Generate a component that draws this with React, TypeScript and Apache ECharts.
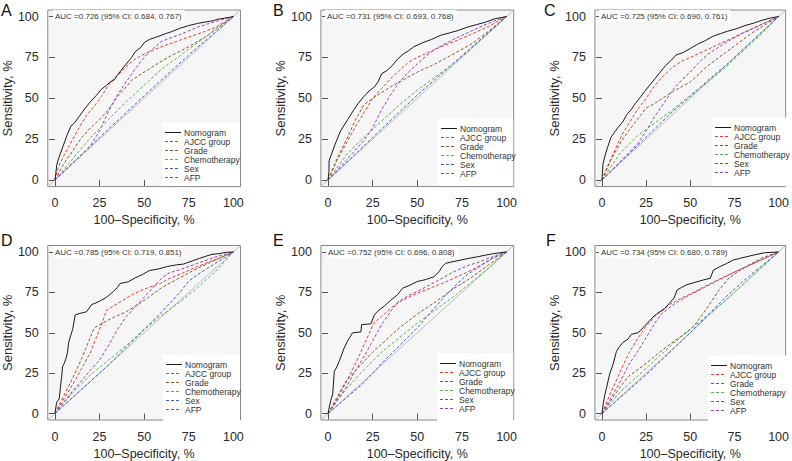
import React, { useEffect, useRef } from "react";
import * as echarts from "echarts";

const CURVE_NAMES = ["Nomogram", "AJCC group", "Grade", "Chemotherapy", "Sex", "AFP"];
const PANEL_LABELS = ["A", "B", "C", "D", "E", "F"];
const AUC_TEXTS = [
  "AUC =0.726 (95% CI: 0.684, 0.767)",
  "AUC =0.731 (95% CI: 0.693, 0.768)",
  "AUC =0.725 (95% CI: 0.690, 0.761)",
  "AUC =0.785 (95% CI: 0.719, 0.851)",
  "AUC =0.752 (95% CI: 0.696, 0.808)",
  "AUC =0.734 (95% CI: 0.680, 0.789)",
];
const TICKS = [0, 25, 50, 75, 100];
const X_TITLE = "100\u2013Specificity, %";
const Y_TITLE = "Sensitivity, %";
const DIAGONAL = [[-4, -4], [104, 104]];

// Panel A
const nomogramA = [[0,0],[0.5,4],[1,9],[2,13],[3,16],[5,22],[7,28],[9,33],[11,35],[13,38],[15,41],[17,44],[20,48],[23,51.5],[26,55.5],[29,58],[31,60],[33,61],[35,64],[37,67],[40,71],[43,75],[45,78.5],[48,81],[50,84],[53,86],[57,87.5],[62,89.5],[66,91],[70,92.8],[75,94.5],[80,95.8],[85,96.8],[89,97.5],[91,98.3],[95,99],[98,99.5],[100,100]];
const ajccA = [[0,0],[2,8],[5,15],[8,21],[11,27],[14,33],[18,40],[22,45],[26,51],[30,58],[33,62],[37,66],[40,69.5],[45,74],[50,77],[55,79.5],[62,82.5],[70,85.5],[75,87.5],[82,90],[90,93.5],[100,100]];
const gradeA = [[0,0],[5,10],[10,18],[15,26],[20,32],[25,37],[30,43],[35,51],[40,57],[43,61],[50,66],[58,71.5],[65,76],[75,81.5],[85,88],[92,94],[100,100]];
const chemoA = [[0,0],[10,13],[20,26],[30,37],[40,48],[50,58],[60,68],[70,76],[80,84],[90,92],[100,100]];
const sexA = [[0,0],[25,26],[50,51.5],[75,76.5],[100,100]];
const afpA = [[0,0],[10,10.5],[20,21],[25,30],[30,42],[35,52],[40,60],[45,68],[50,75],[55,80.5],[60,85],[70,89],[80,93.5],[90,97],[100,100]];

// Panel B
const nomogramB = [[0,0],[0.5,5],[0.6,12],[2,16],[4,22],[7,30],[11,37],[14.5,43],[17,47],[20,51],[23,54.5],[26,57],[28,60],[30,65],[33,67],[36,70],[39,74],[42,77],[45,79],[48,81.5],[53,84],[58,86],[63,88.5],[68,90],[73,91.5],[78,93.5],[83,95],[88,96.5],[93,98.5],[100,100]];
const ajccB = [[0,0],[5,12],[10,22],[15,32],[20,41],[25,50],[30,56],[35,62],[40,67],[45,72],[50,75],[55,77.5],[60,80],[70,84.5],[80,89],[90,94],[100,100]];
const gradeB = [[0,0],[5,13],[10,24],[15,36],[20,46],[25,50],[35,57],[45,63],[50,66],[60,71],[70,77],[80,83],[90,91],[100,100]];
const chemoB = [[0,0],[10,15],[20,26],[30,36],[40,46],[50,55],[60,63],[70,71],[80,80],[90,90],[100,100]];
const sexB = [[0,0],[25,26],[50,52],[75,76],[100,100]];
const afpB = [[0,0],[10,12],[20,24],[25,32],[30,43],[35,52],[40,60],[45,66],[50,71],[55,76],[60,80],[70,86],[80,91],[90,96],[100,100]];

// Panel C
const nomogramC = [[0,0],[0.3,5],[0.6,10],[2,16],[3.5,21],[5,26],[7,29],[9,32],[12,36],[14,40],[16.5,43],[19,47],[22,51],[24,54],[27,58],[30,62],[33,66],[36,70],[39,73],[42,76.5],[46,78],[50,80.5],[54,83],[58,85],[63,88],[67,89.5],[71,91],[76,92.5],[81,94.5],[86,96],[90,97.5],[95,99],[100,100]];
const ajccC = [[0,0],[3,8],[8,20],[12,29],[16,36],[20,43],[25,50],[30,58],[35,64],[40,69],[45,72.5],[50,75],[55,77.5],[60,80],[70,85],[80,90],[90,95],[100,100]];
const gradeC = [[0,0],[5,12],[10,22],[15,30],[20,37],[25,44],[30,47],[40,54],[50,60],[60,70],[70,78],[75,82],[85,90],[100,100]];
const chemoC = [[0,0],[10,16],[20,27],[30,35],[40,43],[50,52],[60,60],[70,69],[80,79],[90,89],[100,100]];
const sexC = [[0,0],[20,21],[40,42],[50,51],[60,61],[70,70],[80,80],[100,100]];
const afpC = [[0,0],[10,11],[20,22],[25,30],[30,39],[35,47],[40,55],[45,61],[50,66],[55,72],[60,77],[70,84],[80,90],[90,95],[100,100]];

// Panel D
const nomogramD = [[0,0],[1,7],[2.4,9],[3,15],[3.8,23],[4.3,29],[5.2,31],[6.2,34],[7.1,38],[7.7,44],[8.8,48],[9.9,52],[11.4,61],[14,62],[17.8,63],[20.6,67.5],[22,68],[25,69.5],[29,72],[32.7,75.5],[35,78],[36.5,80.5],[41,81.5],[45,84],[49,86],[53,88.5],[58,89.5],[63,91],[68,92],[72,92.5],[77,94.5],[81,96],[85,97.5],[88,98.5],[92,99],[96,99.8],[100,100]];
const ajccD = [[0,0],[5,9],[10,18],[15,28],[20,38],[25,52],[29,64],[35,68],[44,74],[50,77],[59,80.5],[65,84],[74,88],[80,91],[89,95],[100,100]];
const gradeD = [[0,0],[5,11],[10,22],[15,34],[22,53],[30,58],[40,63],[50,70],[60,78],[70,84],[80,90],[90,95],[100,100]];
const chemoD = [[0,0],[10,13],[20,24],[30,33],[40,42],[50,52],[60,61],[70,69],[80,78],[90,88],[100,100]];
const sexD = [[0,0],[10,10],[20,20],[30,30],[40,41],[50,52],[60,63],[70,75],[75,82],[80,86],[90,93],[100,100]];
const afpD = [[0,0],[10,14],[20,27],[25,33],[30,42],[35,52],[40,60],[45,66],[50,72],[55,78],[60,84],[64,87],[70,89],[80,93],[90,97],[100,100]];

// Panel E
const nomogramE = [[0,0],[0.7,4],[1.5,8],[2.6,12],[3.5,26],[5,29],[6.5,33],[9,40.5],[11,45],[13.8,50],[18.4,50.5],[18.8,55],[24,55.5],[25.9,61],[28.5,64],[31.5,66.5],[35,70],[38.9,73.5],[41.7,77.5],[46,79.5],[50,81.7],[55,83],[59.4,84.7],[62.2,87.8],[64,91],[65.9,93],[70,94],[74.3,95],[80,96.3],[83.6,97],[88,98],[92.9,99],[100,100]];
const ajccE = [[0,0],[5,9],[10,19],[15,30],[20,42],[24,52],[26,56.5],[30,60],[35,65],[40,69],[45,72],[50,74.5],[57,77.5],[64,80.5],[70,83.5],[78,87.5],[85,91.5],[92,96],[100,100]];
const gradeE = [[0,0],[10,20],[20,32],[25,38],[30,43],[40,53],[50,61.5],[60,69],[70,77],[80,84],[90,92],[100,100]];
const chemoE = [[0,0],[10,15],[20,27],[30,38],[40,47],[50,56],[60,64],[70,72],[80,81],[90,90],[100,100]];
const sexE = [[0,0],[20,19],[30,31],[40,42],[50,53],[57,62],[65,72],[72,80],[78,86],[85,91],[92,96],[100,100]];
const afpE = [[0,0],[10,16],[15,26],[20,35],[25,45],[30,55],[35,63],[39,69],[45,73],[50,75.5],[55,78.5],[61,82],[70,87.5],[78,91.5],[84,93.5],[92,97],[100,100]];

// Panel F
const nomogramF = [[0,0],[0.7,6],[1.5,11],[2.6,16],[4.5,25],[6.3,30.5],[8.2,38.5],[10,41.5],[11.9,44],[14.7,46],[16.6,49],[20.3,50],[22,51.5],[24,54],[27,57.5],[29.6,60.5],[32,62.5],[35.2,64.5],[38,68],[40.8,71.5],[42.6,76.5],[45,78],[48.2,79.8],[52,81],[57.5,82.7],[61.3,83.7],[63.1,88.8],[66.9,91],[70.5,92.8],[74.3,95],[78,96],[85.5,98],[92,99.5],[100,100]];
const ajccF = [[0,0],[5,13],[10,25],[15,37],[20,46],[25,54],[30,60],[35,65],[40,68.5],[45,71.5],[50,74],[58,78.5],[66,83],[74,87],[82,91],[90,95],[100,100]];
const gradeF = [[0,0],[10,16],[15,23],[25,31],[35,40],[45,48],[52,54],[60,66],[66,76],[72,84],[80,90],[90,96],[100,100]];
const chemoF = [[0,0],[10,13],[20,23],[30,33],[40,43],[50,52],[60,61],[70,70],[80,80],[90,90],[100,100]];
const sexF = [[0,0],[25,24],[50,50],[60,61],[70,72],[80,82],[90,91],[100,100]];
const afpF = [[0,0],[10,19],[15,30],[20,38],[25,47],[30,56],[34,62],[40,67],[45,70.5],[50,73.5],[58,78],[66,82.5],[74,87],[82,91],[90,95],[100,100]];

const PANEL_DATA = [
  [nomogramA, ajccA, gradeA, chemoA, sexA, afpA],
  [nomogramB, ajccB, gradeB, chemoB, sexB, afpB],
  [nomogramC, ajccC, gradeC, chemoC, sexC, afpC],
  [nomogramD, ajccD, gradeD, chemoD, sexD, afpD],
  [nomogramE, ajccE, gradeE, chemoE, sexE, afpE],
  [nomogramF, ajccF, gradeF, chemoF, sexF, afpF],
];

const COLORS = ["#1a1a1a", "#ee3b2e", "#8b5a2b", "#4fb848", "#3f5fd0", "#9b3fc0"];

const FONT = "'Liberation Sans', Arial, Helvetica, sans-serif";
const COL_LEFT = [47.7, 320.9, 594.9];
const ROW_TOP = [10, 245.5];
const GRID_W = 192.8;
const GRID_H = 176.6;
// legend: x of line start, y of first row centre
const LEGEND_POS = [
  { x: 165, y: 132 },
  { x: 441, y: 128 },
  { x: 715, y: 127 },
  { x: 166, y: 364 },
  { x: 440, y: 363 },
  { x: 711, y: 365 },
];
const LEGEND_ROW = 9;
const LEGEND_DASHES = [0, 5, 10];
const LETTER_POS = [
  { x: 1, y: 2 }, { x: 273, y: 2 }, { x: 544, y: 2 },
  { x: 1, y: 232 }, { x: 273, y: 232 }, { x: 546, y: 232 },
];
const AUC_POS = [
  { x: 53, y: 16 }, { x: 325, y: 16 }, { x: 599, y: 16 },
  { x: 53, y: 252 }, { x: 326, y: 252 }, { x: 599, y: 252 },
];

export default function App() {
  const ref = useRef<HTMLDivElement>(null);
  useEffect(() => {
    if (!ref.current) return;
    const chart = echarts.init(ref.current, null, { renderer: "svg" });
    const grids: any[] = [];
    const xAxes: any[] = [];
    const yAxes: any[] = [];
    const series: any[] = [];
    const graphics: any[] = [];
    for (let p = 0; p < 6; p++) {
      const col = p % 3;
      const row = Math.floor(p / 3);
      const gl = COL_LEFT[col];
      const gt = ROW_TOP[row];
      grids.push({
        left: gl, top: gt, width: GRID_W, height: GRID_H,
        show: true, backgroundColor: "#f6f6f6", borderColor: "#8a8a8a", borderWidth: 1,
        containLabel: false,
      });
      const axisCommon = {
        gridIndex: p, type: "value", min: -4, max: 104,
        axisLine: { show: false },
        splitLine: { show: false },
        axisTick: { show: true, length: 6, inside: false, customValues: TICKS, lineStyle: { color: "#555", width: 1 } },
        nameLocation: "middle",
        nameTextStyle: { fontFamily: FONT, color: "#2a2a2a", fontSize: 12.5 },
      };
      xAxes.push({
        ...axisCommon,
        axisLabel: { customValues: TICKS, margin: 10, fontFamily: FONT, fontSize: 12.5, color: "#2a2a2a" },
        name: X_TITLE, nameGap: 27,
      });
      yAxes.push({
        ...axisCommon,
        axisLabel: { customValues: TICKS, margin: 9, fontFamily: FONT, fontSize: 12.5, color: "#2a2a2a" },
        name: Y_TITLE, nameGap: 31,
        nameTextStyle: { fontFamily: FONT, color: "#2a2a2a", fontSize: 13 },
      });
      series.push({
        type: "line", name: "diag", xAxisIndex: p, yAxisIndex: p, data: DIAGONAL,
        symbol: "none", silent: true, lineStyle: { color: "#bdbdbd", width: 1 }, z: 1,
      });
      PANEL_DATA[p].forEach((d, i) => {
        series.push({
          type: "line", name: CURVE_NAMES[i], xAxisIndex: p, yAxisIndex: p, data: d,
          symbol: "none", color: COLORS[i],
          lineStyle: { color: COLORS[i], width: 1, type: i === 0 ? "solid" : [3, 2] },
          z: i === 0 ? 3 : 2,
        });
      });
      // legend drawn as graphic elements so each panel has its own box
      const lp = LEGEND_POS[p];
      const boxTop = lp.y - 9.5;
      const boxBottom = gt + GRID_H - 0.5;
      graphics.push({
        type: "rect", z: 10, silent: true,
        shape: { x: lp.x - 3, y: boxTop, width: gl + GRID_W - 0.5 - (lp.x - 3), height: boxBottom - boxTop },
        style: { fill: "#ffffff" },
      });
      CURVE_NAMES.forEach((n, i) => {
        const y = lp.y + i * LEGEND_ROW;
        if (i === 0) {
          graphics.push({
            type: "rect", z: 11, silent: true,
            shape: { x: lp.x, y, width: 16, height: 1 },
            style: { fill: COLORS[i] },
          });
        } else {
          LEGEND_DASHES.forEach((dx) => {
            graphics.push({
              type: "rect", z: 11, silent: true,
              shape: { x: lp.x + dx, y, width: 3, height: 1 },
              style: { fill: COLORS[i] },
            });
          });
        }
        graphics.push({
          type: "text", z: 11, silent: true, x: lp.x + 19, y: y + 0.5,
          style: { text: n, font: `8.5px ${FONT}`, fill: "#333", textVerticalAlign: "middle" },
        });
      });
      graphics.push({
        type: "text", x: LETTER_POS[p].x, y: LETTER_POS[p].y,
        style: { text: PANEL_LABELS[p], font: `16px ${FONT}`, fill: "#111" },
      });
      graphics.push({
        type: "text", x: AUC_POS[p].x, y: AUC_POS[p].y, z: 10,
        style: {
          text: AUC_TEXTS[p], font: `8px ${FONT}`, fill: "#333", textVerticalAlign: "middle",
          backgroundColor: "#ffffff", padding: [2, 3, 2, 2],
        },
      });
    }
    chart.setOption({
      animation: false,
      backgroundColor: "#ffffff",
      grid: grids, xAxis: xAxes, yAxis: yAxes, series, graphic: graphics,
    });
    return () => chart.dispose();
  }, []);
  return <div ref={ref} style={{ position: "fixed", left: 0, top: 0, width: 792, height: 461 }} />;
}
